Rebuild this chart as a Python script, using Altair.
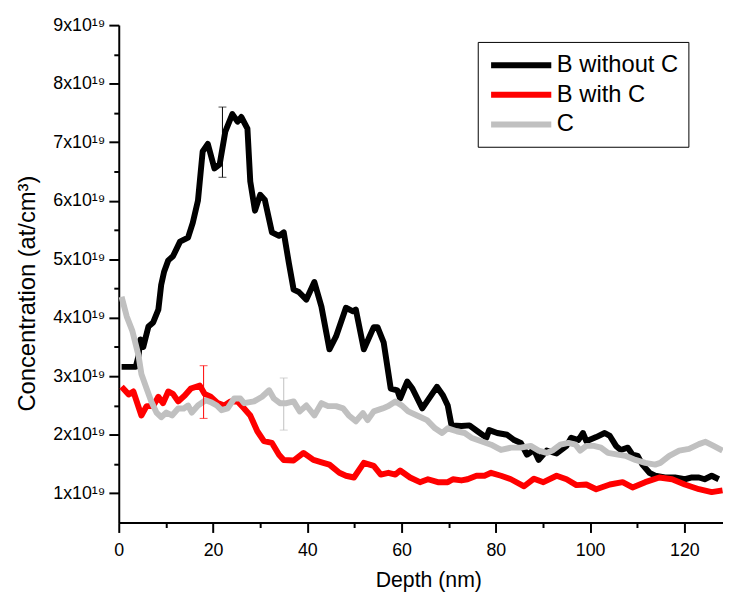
import altair as alt
import pandas as pd

# ---- data (concentration in units of 1e19 at/cm^3, depth in nm) ----
series_names = ["B without C", "B with C", "C"]
series_colors = ["#000000", "#ff0000", "#c0c0c0"]

black_depth = [0.6, 3.6, 4.2, 4.6, 5.2, 6.3, 7.3, 8.4, 9.0, 9.6, 10.5, 11.5, 13.0, 14.7, 15.7,
               16.8, 17.8, 18.9, 20.3, 21.4, 22.6, 24.1, 25.2, 26.0, 27.3, 27.9, 28.9, 30.0, 31.0,
               32.5, 34.0, 35.0, 36.1, 37.1, 38.2, 39.8, 41.5, 43.0, 44.7, 46.1, 48.2, 49.7, 50.3,
               52.0, 54.1, 54.9, 56.2, 57.7, 59.1, 59.7, 61.2, 62.3, 64.4, 67.5, 68.8, 69.8, 70.6,
               72.7, 74.4, 76.1, 78.0, 78.6, 80.3, 82.4, 83.9, 85.3, 86.6, 88.1, 89.1, 90.8, 92.9,
               95.0, 96.0, 97.5, 98.5, 99.2, 101.3, 103.1, 104.2, 105.5, 106.5, 108.0, 109.0, 110.1,
               111.1, 112.6, 113.8, 115.9, 118.0, 120.1, 121.6, 123.1, 124.3, 125.8, 127.3]
black_conc = [3.16, 3.16, 3.35, 3.63, 3.50, 3.85, 3.92, 4.14, 4.56, 4.78, 4.98, 5.05, 5.30, 5.37, 5.62,
              6.00, 6.84, 6.97, 6.55, 6.62, 7.18, 7.48, 7.35, 7.43, 7.23, 6.33, 5.83, 6.10, 6.01,
              5.46, 5.40, 5.46, 4.93, 4.48, 4.44, 4.31, 4.61, 4.19, 3.46, 3.68, 4.17, 4.11, 4.14,
              3.46, 3.84, 3.84, 3.58, 2.79, 2.76, 2.62, 2.91, 2.79, 2.45, 2.82, 2.67, 2.50, 2.16,
              2.15, 2.16, 2.06, 1.95, 2.08, 2.03, 2.00, 1.91, 1.86, 1.66, 1.74, 1.57, 1.73, 1.68,
              1.81, 1.95, 1.91, 2.03, 1.89, 1.96, 2.03, 1.98, 1.81, 1.74, 1.78, 1.66, 1.64,
              1.49, 1.35, 1.30, 1.27, 1.27, 1.24, 1.27, 1.27, 1.24, 1.30, 1.24]

red_depth = [0.6, 2.1, 3.1, 4.8, 5.9, 7.3, 8.4, 9.4, 10.5, 11.5, 12.6, 14.0, 15.3, 17.2, 18.2,
             19.5, 21.0, 22.4, 23.7, 25.2, 26.6, 27.9, 29.4, 30.8, 32.5, 34.0, 35.0, 37.1, 39.2,
             41.3, 43.4, 44.7, 46.8, 48.2, 49.9, 52.0, 54.1, 55.6, 57.2, 58.7, 59.7, 61.8, 63.9,
             65.6, 67.7, 69.8, 70.9, 72.7, 74.0, 75.9, 77.6, 79.0, 81.1, 83.2, 86.0, 88.1, 90.1,
             92.9, 95.0, 97.1, 99.2, 101.3, 104.2, 106.9, 109.0, 111.7, 114.7, 117.4, 120.1,
             123.1, 125.8, 128.1]
red_conc = [2.82, 2.69, 2.74, 2.33, 2.49, 2.49, 2.65, 2.54, 2.74, 2.70, 2.57, 2.67, 2.79, 2.84, 2.70,
            2.65, 2.54, 2.50, 2.57, 2.57, 2.45, 2.33, 2.06, 1.89, 1.86, 1.66, 1.57, 1.56, 1.69,
            1.57, 1.52, 1.49, 1.35, 1.30, 1.27, 1.52, 1.47, 1.32, 1.35, 1.32, 1.39, 1.27, 1.19,
            1.24, 1.19, 1.19, 1.24, 1.22, 1.24, 1.30, 1.30, 1.35, 1.30, 1.24, 1.12, 1.25, 1.19,
            1.30, 1.24, 1.14, 1.15, 1.07, 1.15, 1.19, 1.10, 1.19, 1.27, 1.24, 1.15,
            1.07, 1.02, 1.05]

gray_depth = [0.6, 1.7, 2.9, 4.2, 4.8, 5.9, 6.9, 8.0, 9.0, 10.1, 11.3, 12.6, 13.8, 14.7, 15.5,
              16.8, 18.4, 19.7, 20.8, 21.8, 23.1, 24.5, 25.8, 26.6, 28.7, 30.4, 31.9, 32.9, 34.2,
              35.6, 37.1, 38.4, 39.8, 41.5, 43.0, 44.4, 46.1, 47.6, 48.8, 50.3, 51.8, 52.8, 54.1,
              56.0, 57.2, 58.7, 60.2, 61.4, 63.3, 65.4, 67.1, 68.6, 69.8, 71.7, 73.4, 74.8, 76.9,
              79.0, 81.1, 83.2, 85.3, 87.4, 89.1, 90.8, 92.2, 93.7, 95.4, 96.9, 97.9, 99.2, 100.8,
              102.3, 103.8, 105.9, 107.5, 109.6, 111.7, 113.8, 114.9, 116.8, 118.9, 121.0, 123.1,
              124.5, 126.2, 128.1]
gray_conc = [4.36, 4.02, 3.77, 3.35, 3.04, 2.79, 2.57, 2.38, 2.30, 2.38, 2.33, 2.45, 2.45, 2.50, 2.38,
             2.50, 2.59, 2.55, 2.50, 2.42, 2.45, 2.62, 2.62, 2.54, 2.57, 2.65, 2.76, 2.62, 2.54,
             2.54, 2.57, 2.40, 2.50, 2.33, 2.54, 2.49, 2.49, 2.45, 2.33, 2.23, 2.37, 2.25, 2.40,
             2.45, 2.49, 2.57, 2.49, 2.40, 2.33, 2.25, 2.11, 2.03, 2.11, 2.06, 2.03, 1.95, 1.89,
             1.83, 1.74, 1.78, 1.78, 1.81, 1.73, 1.69, 1.74, 1.83, 1.86, 1.83, 1.73, 1.81, 1.81,
             1.78, 1.69, 1.66, 1.64, 1.57, 1.52, 1.49, 1.52, 1.64, 1.73, 1.76, 1.84,
             1.88, 1.81, 1.73]

err_series = ["B without C", "B with C", "C"]
err_depth = [22.0, 18.0, 35.0]
err_low = [6.40, 2.28, 2.08]
err_high = [7.60, 3.18, 2.97]

x_major = [0, 20, 40, 60, 80, 100, 120]
x_minor = [10, 30, 50, 70, 90, 110]
y_major = [1, 2, 3, 4, 5, 6, 7, 8, 9]
y_minor = [1.5, 2.5, 3.5, 4.5, 5.5, 6.5, 7.5, 8.5]

# ---- tables ----
rows = []
for name, xs_, ys_ in [(series_names[0], black_depth, black_conc),
                       (series_names[1], red_depth, red_conc),
                       (series_names[2], gray_depth, gray_conc)]:
    for i, (a, b) in enumerate(zip(xs_, ys_)):
        rows.append({"depth": a, "conc": b, "series": name, "idx": i})
df = pd.DataFrame(rows)
df_err = pd.DataFrame({"series": err_series, "depth": err_depth, "lo": err_low, "hi": err_high})

FONT = "Liberation Sans"
xscale = alt.Scale(domain=[0, 128.2], nice=False, zero=False)
yscale = alt.Scale(domain=[0.5, 9], nice=False, zero=False)
cscale = alt.Scale(domain=series_names, range=series_colors)

legend = alt.Legend(title=None, orient="none", legendX=363, legendY=17,
                    symbolType="M-0.983,0H5", symbolSize=414, symbolStrokeWidth=6,
                    symbolOpacity=1,
                    labelFont=FONT, labelFontSize=24, labelColor="black",
                    labelOffset=43, labelLimit=400,
                    padding=10, rowPadding=4,
                    strokeColor="black", fillColor="white")

x_axis_major = alt.Axis(values=x_major, orient="bottom", title="Depth (nm)", format="d",
                        titleFont=FONT, titleFontSize=21.5, titleFontWeight="normal",
                        titleColor="black", titleX=313, titleY=65, titleBaseline="alphabetic",
                        labelFont=FONT, labelFontSize=18, labelColor="black", labelPadding=9,
                        labelFlush=False, labelOverlap=False,
                        tickSize=10, tickWidth=2, tickColor="black",
                        domainColor="black", domainWidth=2, grid=False)
y_axis_major = alt.Axis(values=y_major, orient="left", title="Concentration (at/cm³)",
                        labelExpr="datum.value + 'x10¹⁹'",
                        titleFont=FONT, titleFontSize=24, titleFontWeight="normal",
                        titleColor="black", titleX=-92, titleY=271, titleAngle=270,
                        titleAlign="center", titleBaseline="middle",
                        labelFont=FONT, labelFontSize=18, labelColor="black", labelPadding=4,
                        labelFlush=False, labelOverlap=False,
                        tickSize=10, tickWidth=2, tickColor="black",
                        domainColor="black", domainWidth=2, grid=False)
x_axis_minor = alt.Axis(values=x_minor, orient="bottom", title=None, labels=False,
                        tickSize=5, tickWidth=2, tickColor="black", domain=False, grid=False)
y_axis_minor = alt.Axis(values=y_minor, orient="left", title=None, labels=False,
                        tickSize=5, tickWidth=2, tickColor="black", domain=False, grid=False)

lines = alt.Chart(df).mark_line(strokeWidth=6, clip=True, strokeJoin="round").encode(
    x=alt.X("depth:Q", scale=xscale, axis=x_axis_major),
    y=alt.Y("conc:Q", scale=yscale, axis=y_axis_major),
    color=alt.Color("series:N", scale=cscale, legend=legend),
    detail="series:N",
    order="idx:Q",
)

errbars = alt.Chart(df_err).mark_errorbar(ticks=True, size=8, thickness=1).encode(
    x=alt.X("depth:Q", scale=xscale, axis=None),
    y=alt.Y("lo:Q", scale=yscale, axis=None),
    y2="hi:Q",
    color=alt.Color("series:N", scale=cscale, legend=legend),
)

minor = alt.Chart(df_err).mark_point(opacity=0).encode(
    x=alt.X("depth:Q", scale=xscale, axis=x_axis_minor),
    y=alt.Y("lo:Q", scale=yscale, axis=y_axis_minor),
)

chart = alt.layer(minor, lines, errbars).resolve_axis(
    x="independent", y="independent"
).properties(
    width=611, height=503,
    autosize=alt.AutoSizeParams(type="none"),
    padding={"left": 112, "top": 14, "right": 0, "bottom": 75},
    background="white",
).configure_view(stroke=None)

chart.save("out.html", embed_options={"renderer": "svg", "actions": False})
